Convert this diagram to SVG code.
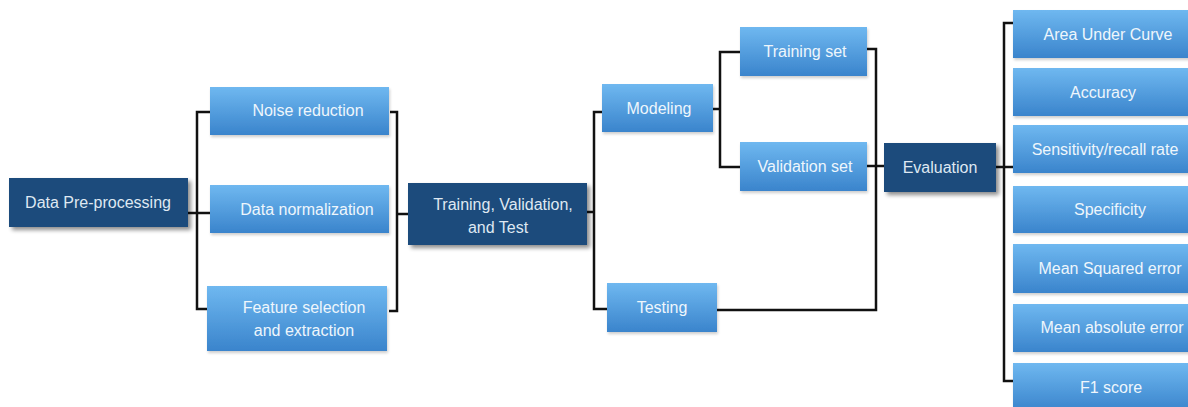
<svg xmlns="http://www.w3.org/2000/svg" width="1188" height="407" viewBox="0 0 1188 407">
  <defs>
    <linearGradient id="lightFill" x1="0" y1="0" x2="0" y2="1">
      <stop offset="0" stop-color="#6fb8f0"/>
      <stop offset="1" stop-color="#3a84cc"/>
    </linearGradient>
    <filter id="shadow" x="-10%" y="-10%" width="125%" height="140%">
      <feGaussianBlur in="SourceAlpha" stdDeviation="2"/>
      <feOffset dx="3" dy="3" result="b"/>
      <feComponentTransfer><feFuncA type="linear" slope="0.45"/></feComponentTransfer>
      <feMerge><feMergeNode/><feMergeNode in="SourceGraphic"/></feMerge>
    </filter>
    <filter id="softShadow" x="-10%" y="-10%" width="125%" height="140%">
      <feGaussianBlur in="SourceAlpha" stdDeviation="1.5"/>
      <feOffset dx="1" dy="2" result="b"/>
      <feComponentTransfer><feFuncA type="linear" slope="0.2"/></feComponentTransfer>
      <feMerge><feMergeNode/><feMergeNode in="SourceGraphic"/></feMerge>
    </filter>
  </defs>
  <style>
    .dark { fill: #1f4c7c; filter: url(#shadow); }
    .light { fill: url(#lightFill); filter: url(#softShadow); }
    .t { font-family: "Liberation Sans", Arial, sans-serif; font-size: 16px; text-anchor: middle; }
    .td { fill: #dfe8f2; }
    .tl { fill: #eef6fc; }
    .wire { fill: none; stroke: #111; stroke-width: 2.5; stroke-linejoin: miter; }
  </style>
  <rect width="1188" height="407" fill="#ffffff"/>

  <!-- connectors -->
  <g id="connectors" class="wire">
    <!-- pre-processing fan-out -->
    <path d="M188 213 H210"/>
    <path d="M210 112 H197 V309 H207"/>
    <!-- pre-processing fan-in -->
    <path d="M390 112 H397 V311 H389"/>
    <path d="M397 214 H408"/>
    <!-- split into modeling / testing -->
    <path d="M587 212 H594"/>
    <path d="M602 112 H594 V309 H607"/>
    <!-- modeling into training / validation sets -->
    <path d="M713 109 H720"/>
    <path d="M740 52 H720 V167 H740"/>
    <!-- sets and testing into evaluation -->
    <path d="M867 49 H876 V310 H717"/>
    <path d="M867 166 H885"/>
    <!-- evaluation metrics -->
    <path d="M996 167 H1013"/>
    <path d="M1013 23 H1004 V381 H1013"/>
  </g>

  <g id="data-preprocessing">
    <rect class="dark" x="9" y="178" width="179" height="49"/>
    <text class="t td" x="98" y="208">Data Pre-processing</text>
  </g>
  <g id="noise-reduction">
    <rect class="light" x="210" y="87" width="179" height="48"/>
    <text class="t tl" x="308" y="116">Noise reduction</text>
  </g>
  <g id="data-normalization">
    <rect class="light" x="210" y="185" width="179" height="48"/>
    <text class="t tl" x="307" y="215">Data normalization</text>
  </g>
  <g id="feature-selection">
    <rect class="light" x="207" y="286" width="180" height="65"/>
    <text class="t tl" x="304" y="313">Feature selection</text>
    <text class="t tl" x="304" y="336">and extraction</text>
  </g>
  <g id="train-val-test">
    <rect class="dark" x="408" y="183" width="179" height="62"/>
    <text class="t td" x="503" y="210">Training, Validation,</text>
    <text class="t td" x="498" y="233">and Test</text>
  </g>
  <g id="modeling">
    <rect class="light" x="602" y="84" width="111" height="48"/>
    <text class="t tl" x="659" y="114">Modeling</text>
  </g>
  <g id="testing">
    <rect class="light" x="607" y="283" width="110" height="49"/>
    <text class="t tl" x="662" y="313">Testing</text>
  </g>
  <g id="training-set">
    <rect class="light" x="740" y="27" width="127" height="49"/>
    <text class="t tl" x="805" y="57">Training set</text>
  </g>
  <g id="validation-set">
    <rect class="light" x="740" y="142" width="127" height="49"/>
    <text class="t tl" x="805" y="172">Validation set</text>
  </g>
  <g id="evaluation">
    <rect class="dark" x="884" y="143" width="112" height="49"/>
    <text class="t td" x="940" y="173">Evaluation</text>
  </g>

  <g id="auc">
    <rect class="light" x="1013" y="10" width="180" height="48"/>
    <text class="t tl" x="1108" y="40">Area Under Curve</text>
  </g>
  <g id="accuracy">
    <rect class="light" x="1013" y="68" width="180" height="48"/>
    <text class="t tl" x="1103" y="98">Accuracy</text>
  </g>
  <g id="sensitivity">
    <rect class="light" x="1013" y="125" width="180" height="48"/>
    <text class="t tl" x="1105" y="155">Sensitivity/recall rate</text>
  </g>
  <g id="specificity">
    <rect class="light" x="1013" y="186" width="180" height="47"/>
    <text class="t tl" x="1110" y="215">Specificity</text>
  </g>
  <g id="mse">
    <rect class="light" x="1013" y="244" width="180" height="49"/>
    <text class="t tl" x="1110" y="274">Mean Squared error</text>
  </g>
  <g id="mae">
    <rect class="light" x="1013" y="304" width="180" height="48"/>
    <text class="t tl" x="1112" y="333">Mean absolute error</text>
  </g>
  <g id="f1">
    <rect class="light" x="1013" y="363" width="180" height="48"/>
    <text class="t tl" x="1111" y="393">F1 score</text>
  </g>
</svg>
